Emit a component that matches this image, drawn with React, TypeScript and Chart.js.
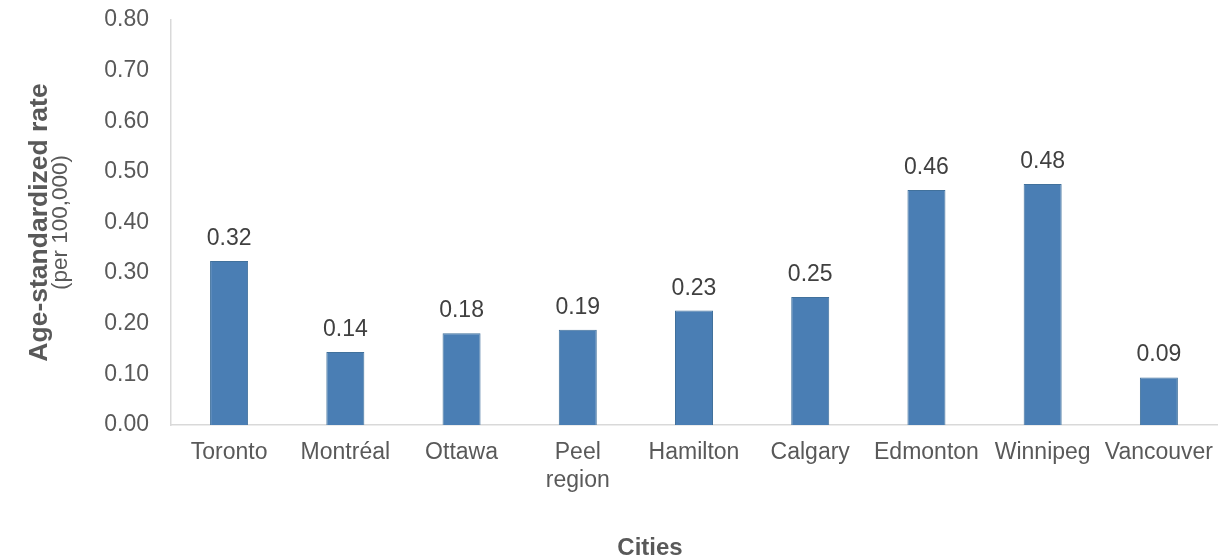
import React, { useEffect, useRef } from "react";
import { Chart, registerables } from "chart.js";

Chart.register(...registerables);

const cities: (string | string[])[] = [
  "Toronto",
  "Montréal",
  "Ottawa",
  ["Peel", "region"],
  "Hamilton",
  "Calgary",
  "Edmonton",
  "Winnipeg",
  "Vancouver",
];
const rates = [0.324, 0.144, 0.181, 0.188, 0.226, 0.253, 0.464, 0.476, 0.094];
const yTitle = "Age-standardized rate";
const ySubTitle = "(per 100,000)";
const xTitle = "Cities";

const FONT = "'Liberation Sans', Arial, sans-serif";

const labelPlugin = {
  id: "customLabels",
  afterDatasetsDraw(chart: any) {
    const ctx = chart.ctx;
    const meta = chart.getDatasetMeta(0);
    ctx.save();
    ctx.font = `23px ${FONT}`;
    ctx.fillStyle = "#404040";
    ctx.textAlign = "center";
    ctx.textBaseline = "alphabetic";
    meta.data.forEach((bar: any, i: number) => {
      ctx.fillText(rates[i].toFixed(2), bar.x, bar.y - 16);
    });
    ctx.restore();
  },
  afterDraw(chart: any) {
    const ctx = chart.ctx;
    const area = chart.chartArea;
    const cy = (area.top + area.bottom) / 2;
    ctx.save();
    ctx.fillStyle = "#595959";
    ctx.textAlign = "center";
    ctx.textBaseline = "alphabetic";
    ctx.translate(47, cy);
    ctx.rotate(-Math.PI / 2);
    ctx.font = `bold 26.5px ${FONT}`;
    ctx.fillText(yTitle, 0, 0);
    ctx.font = `22.5px ${FONT}`;
    ctx.fillText(ySubTitle, 0, 20);
    ctx.restore();
    ctx.save();
    ctx.fillStyle = "#595959";
    ctx.textAlign = "center";
    ctx.textBaseline = "alphabetic";
    ctx.font = `bold 24px ${FONT}`;
    ctx.fillText(xTitle, 650, 555);
    ctx.restore();
  },
};

export default function App() {
  const ref = useRef<HTMLCanvasElement | null>(null);
  useEffect(() => {
    if (!ref.current) return;
    const chart = new Chart(ref.current, {
      type: "bar",
      data: {
        labels: cities,
        datasets: [
          {
            data: rates,
            backgroundColor: "#4a7eb4",
            borderColor: "#41719c",
            borderWidth: 1,
            barPercentage: 0.327,
            categoryPercentage: 1,
          },
        ],
      },
      options: {
        animation: false,
        responsive: true,
        maintainAspectRatio: false,
        layout: { padding: { top: 20, right: 6, left: 0, bottom: 0 } },
        plugins: {
          legend: { display: false },
          tooltip: { enabled: false },
          title: { display: false },
        },
        scales: {
          x: {
            grid: { display: false, drawTicks: false },
            border: { display: true, color: "#d9d9d9", width: 1.5 },
            ticks: {
              color: "#595959",
              font: { family: FONT, size: 23, lineHeight: 1.2 },
              padding: 14,
              maxRotation: 0,
              autoSkip: false,
            },
            afterFit: (scale: any) => {
              scale.height = 135;
              scale.paddingLeft = 0;
              scale.paddingRight = 0;
            },
          },
          y: {
            min: 0,
            max: 0.8,
            grid: { display: false, drawTicks: false },
            border: { display: true, color: "#d9d9d9", width: 1.5 },
            ticks: {
              stepSize: 0.1,
              color: "#595959",
              font: { family: FONT, size: 23 },
              padding: 22,
              callback: (v: any) => Number(v).toFixed(2),
            },
            afterFit: (scale: any) => {
              scale.width = 171;
              scale.paddingTop = 0;
              scale.paddingBottom = 0;
            },
          },
        },
      },
      plugins: [labelPlugin],
    });
    return () => chart.destroy();
  }, []);
  return (
    <div style={{ position: "absolute", left: 0, top: 0, width: 1223, height: 560, background: "#fff" }}>
      <canvas ref={ref} />
    </div>
  );
}
